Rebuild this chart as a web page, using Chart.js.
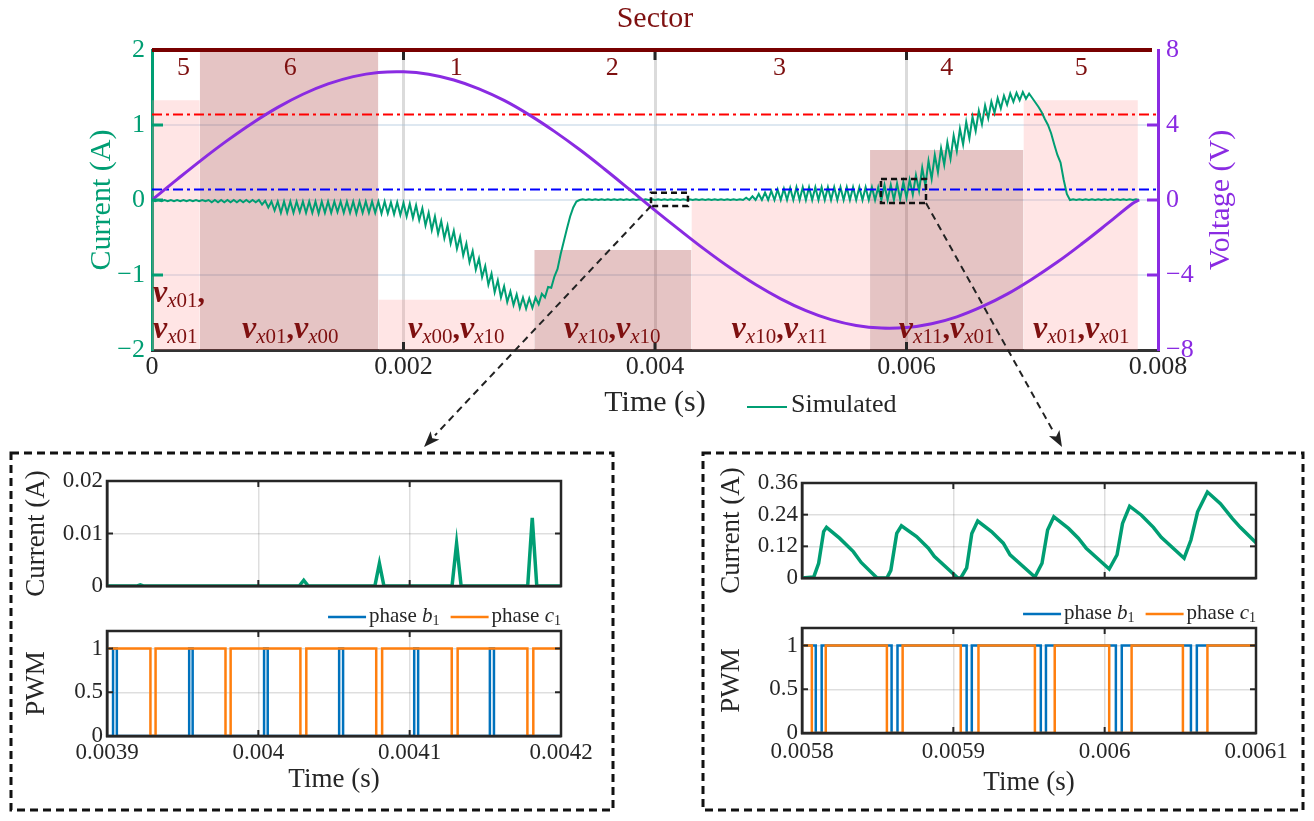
<!DOCTYPE html>
<html lang="en">
<head>
  <meta charset="UTF-8" />
  <title>Sector current and voltage</title>
  <script src="https://cdn.jsdelivr.net/npm/chart.js"></script>
  <style>
    body { margin: 0; background: #fff; }
    .wrap { position: relative; width: 1314px; height: 821px; }
    .wrap canvas { position: absolute; left: 0; top: 0; }
  </style>
</head>
<body>
<div class="wrap">
  <canvas id="mainChart" width="1314" height="821"></canvas>
  <canvas id="leftCurrent" width="1314" height="821"></canvas>
  <canvas id="leftPwm" width="1314" height="821"></canvas>
  <canvas id="rightCurrent" width="1314" height="821"></canvas>
  <canvas id="rightPwm" width="1314" height="821"></canvas>
</div>

<script>
  const W = 1314, H = 821;
  const SERIF = "'Liberation Serif', 'DejaVu Serif', serif";
  const INK = '#262626';
  const GREEN = '#009E73';
  const PURPLE = '#8A2BE2';
  const MAROON = '#7E1010';
  const BLUE = '#0072BD';
  const ORANGE = '#FF7F0E';

  // ---- main plot axes ----
  const timeTicks = [0, 0.002, 0.004, 0.006, 0.008];
  const timeTickLabels = ['0', '0.002', '0.004', '0.006', '0.008'];
  const currentTicks = [-2, -1, 0, 1, 2];
  const currentTickLabels = ['\u22122', '\u22121', '0', '1', '2'];
  const voltageTicks = [-8, -4, 0, 4, 8];
  const voltageTickLabels = ['\u22128', '\u22124', '0', '4', '8'];

  // ---- sectors ----
  const sectorEdges = [0, 0.00038, 0.0018, 0.00304, 0.00429, 0.00571, 0.00693, 0.00784];
  const sectorHeights = [1.33, 2, -1.33, -0.667, 0, 0.667, 1.33];
  const sectorNames = ['5', '6', '1', '2', '3', '4', '5'];
  const sectorLabelTimes = [0.00025, 0.0011, 0.00242, 0.00366, 0.00499, 0.00632, 0.00739];
  const vectorPairs = [['x01', 'x01'], ['x01', 'x00'], ['x00', 'x10'], ['x10', 'x10'],
                       ['x10', 'x11'], ['x11', 'x01'], ['x01', 'x01']];

  // current limits (A)
  const upperLimit = 1.14;
  const lowerLimit = 0.14;

  // simulated current, one sample every 25 us
  const currentStep = 0.000025;
  const currentSim = [
    0, -0.015, 0, -0.015, 0, -0.015, 0, -0.015, 0, -0.015,
    0, -0.015, 0, -0.015, 0, -0.015, 0, -0.015, 0, -0.03,
    0, -0.03, 0, -0.03, 0, -0.03, 0, -0.03, 0, -0.03,
    0, -0.03, 0, -0.03, 0, -0.06, -0.01, -0.1, -0.02, -0.14,
    -0.02, -0.17, -0.02, -0.17, -0.02, -0.17, -0.02, -0.16, -0.02, -0.17,
    -0.02, -0.17, -0.02, -0.18, -0.02, -0.17, -0.02, -0.17, -0.02, -0.16,
    -0.02, -0.17, -0.02, -0.17, -0.02, -0.18, -0.02, -0.17, -0.02, -0.17,
    -0.02, -0.17, -0.02, -0.18, -0.02, -0.18, -0.03, -0.19, -0.03, -0.2,
    -0.04, -0.22, -0.05, -0.24, -0.07, -0.27, -0.11, -0.34, -0.17, -0.4,
    -0.22, -0.45, -0.28, -0.51, -0.34, -0.58, -0.41, -0.65, -0.49, -0.74,
    -0.58, -0.83, -0.68, -0.93, -0.78, -1.03, -0.88, -1.13, -0.98, -1.23,
    -1.07, -1.3, -1.15, -1.36, -1.22, -1.4, -1.26, -1.44, -1.3, -1.45,
    -1.31, -1.44, -1.3, -1.39, -1.25, -1.3, -1.16, -1.17, -1.02, -0.92,
    -0.72, -0.55, -0.38, -0.22, -0.1, -0.02, 0, 0.01, 0, 0.01,
    0, 0.01, 0, 0.01, 0, 0.01, 0, 0.01, 0, 0.01,
    0, 0.01, 0, 0.01, 0, 0.01, 0, 0.01, 0, 0.01,
    0, 0.01, 0, 0.01, 0, 0.01, 0, 0.01, 0, 0.01,
    0, 0.01, 0, 0.01, 0, 0.01, 0, 0.01, 0, 0.01,
    0, 0.01, 0, 0.01, 0, 0.01, 0, 0.01, 0, 0.03,
    0, 0.05, 0, 0.08, 0, 0.1, 0, 0.12, 0, 0.14,
    0, 0.15, 0, 0.16, 0, 0.17, 0, 0.17, 0, 0.17,
    0, 0.17, 0, 0.17, 0, 0.17, 0, 0.17, 0, 0.17,
    0, 0.17, 0, 0.17, 0, 0.17, 0, 0.17, 0, 0.17,
    0, 0.17, 0, 0.2, 0, 0.2, 0, 0.22, 0.01, 0.24,
    0.03, 0.27, 0.07, 0.33, 0.12, 0.43, 0.19, 0.52, 0.28, 0.6,
    0.37, 0.69, 0.47, 0.77, 0.55, 0.86, 0.65, 0.95, 0.74, 1.04,
    0.82, 1.11, 0.92, 1.19, 1.01, 1.26, 1.09, 1.31, 1.16, 1.36,
    1.22, 1.39, 1.27, 1.42, 1.31, 1.43, 1.33, 1.44, 1.35, 1.42,
    1.36, 1.3, 1.24, 1.17, 1.08, 1.0, 0.89, 0.74, 0.6, 0.5,
    0.27, 0.08, 0, 0.01, 0, 0.01, 0, 0.01, 0, 0.01,
    0, 0.01, 0, 0.01, 0, 0.01, 0, 0.01, 0, 0.01,
    0, 0.01, 0, 0.01, 0
  ];

  // phase voltage (V)
  const voltageTime = [0, 0.0002, 0.0004, 0.0006, 0.0008, 0.001, 0.0012, 0.0014, 0.0016, 0.0018,
    0.002, 0.0022, 0.0024, 0.0026, 0.0028, 0.003, 0.0032, 0.0034, 0.0036, 0.0038,
    0.004, 0.0042, 0.0044, 0.0046, 0.0048, 0.005, 0.0052, 0.0054, 0.0056, 0.0058,
    0.006, 0.0062, 0.0064, 0.0066, 0.0068, 0.007, 0.0072, 0.0074, 0.0076, 0.0078, 0.00785];
  const voltage = [0, 1.1, 2.17, 3.18, 4.11, 4.94, 5.64, 6.19, 6.58, 6.8,
    6.84, 6.71, 6.4, 5.93, 5.31, 4.54, 3.66, 2.69, 1.64, 0.55,
    -0.55, -1.62, -2.66, -3.63, -4.51, -5.27, -5.9, -6.38, -6.69, -6.83,
    -6.8, -6.6, -6.23, -5.69, -5.02, -4.21, -3.31, -2.31, -1.25, -0.17, 0];

  // zoom windows marked on the main plot
  const leftWindow = { t0: 0.003968, t1: 0.004262, i0: -0.08, i1: 0.097 };
  const rightWindow = { t0: 0.005797, t1: 0.006155, i0: -0.04, i1: 0.28 };

  // ---- left zoom (0.0039 - 0.0042 s) ----
  const leftTicks = [0.0039, 0.004, 0.0041, 0.0042];
  const leftTickLabels = ['0.0039', '0.004', '0.0041', '0.0042'];
  const leftCurTicks = [0, 0.01, 0.02];
  const leftCurTickLabels = ['0', '0.01', '0.02'];
  const leftCurTime = [0.0039, 0.00392, 0.003922, 0.003924, 0.004027, 0.00403, 0.004033,
    0.004077, 0.00408, 0.004083, 0.004128, 0.004131, 0.004134, 0.004178, 0.004181, 0.004184, 0.0042];
  const leftCurValue = [0, 0, 0.0002, 0, 0, 0.0011, 0,
    0, 0.0043, 0, 0, 0.0081, 0, 0, 0.013, 0, 0];
  const leftBTime = [0.0039, 0.003904, 0.0039065, 0.0039543, 0.0039566, 0.0040038, 0.0040062,
    0.0040534, 0.004056, 0.004103, 0.0041056, 0.004153, 0.0041557, 0.0042];
  const leftBLevel = [0, 1, 0, 1, 0, 1, 0, 1, 0, 1, 0, 1, 0, 0];
  const leftCTime = [0.0039, 0.0039287, 0.0039321, 0.0039783, 0.0039817, 0.0040278, 0.0040317,
    0.0040779, 0.0040818, 0.0041278, 0.0041317, 0.0041778, 0.0041817, 0.0042];
  const leftCLevel = [1, 0, 1, 0, 1, 0, 1, 0, 1, 0, 1, 0, 1, 1];

  // ---- right zoom (0.0058 - 0.0061 s) ----
  const rightTicks = [0.0058, 0.0059, 0.006, 0.0061];
  const rightTickLabels = ['0.0058', '0.0059', '0.006', '0.0061'];
  const rightCurTicks = [0, 0.12, 0.24, 0.36];
  const rightCurTickLabels = ['0', '0.12', '0.24', '0.36'];
  const rightCurTime = [0.0058, 0.0058078, 0.005811, 0.0058143, 0.0058162, 0.0058248, 0.0058339, 0.0058391,
    0.0058496, 0.0058561, 0.0058587, 0.0058626, 0.0058657, 0.0058757, 0.0058835, 0.0058874,
    0.005903, 0.0059049, 0.0059088, 0.0059122, 0.0059161, 0.0059252, 0.005933, 0.0059375,
    0.0059539, 0.0059586, 0.0059623, 0.0059664, 0.0059761, 0.0059826, 0.0059878,
    0.006003, 0.0060082, 0.0060118, 0.0060165, 0.0060243, 0.0060322, 0.0060374,
    0.0060525, 0.006057, 0.0060614, 0.0060679, 0.0060765, 0.0060843, 0.0060896, 0.0061];
  const rightCurValue = [0, 0.004, 0.056, 0.176, 0.192, 0.151, 0.1, 0.059,
    0, 0, 0.029, 0.169, 0.198, 0.157, 0.113, 0.082,
    0, 0, 0.038, 0.169, 0.216, 0.176, 0.132, 0.088,
    0.004, 0.056, 0.182, 0.232, 0.188, 0.151, 0.113,
    0.034, 0.088, 0.207, 0.272, 0.238, 0.192, 0.154,
    0.075, 0.144, 0.251, 0.326, 0.282, 0.226, 0.192, 0.134];
  const rightBTime = [0.0058, 0.0058091, 0.005813, 0.0058592, 0.0058631, 0.0059088, 0.0059122,
    0.0059578, 0.0059612, 0.0060074, 0.0060113, 0.006057, 0.0060609, 0.0061];
  const rightBLevel = [1, 0, 1, 0, 1, 0, 1, 0, 1, 0, 1, 0, 1, 1];
  const rightCTime = [0.0058, 0.0058065, 0.0058157, 0.0058561, 0.0058665, 0.0059049, 0.0059166,
    0.0059539, 0.005967, 0.006003, 0.0060178, 0.0060517, 0.0060679, 0.0061];
  const rightCLevel = [1, 0, 1, 0, 1, 0, 1, 0, 1, 0, 1, 0, 1, 1];

  const pwmTicks = [0, 0.5, 1];
  const pwmTickLabels = ['0', '0.5', '1'];

  // ---------- helpers ----------
  const pts = (xs, ys) => xs.map((x, i) => ({ x, y: ys[i] }));

  function seg(ctx, x0, y0, x1, y1) {
    ctx.beginPath(); ctx.moveTo(x0, y0); ctx.lineTo(x1, y1); ctx.stroke();
  }

  // text made of runs with different fonts / offsets
  function drawRuns(ctx, runs, x, y, align) {
    let total = 0;
    runs.forEach(r => { ctx.font = r.f; r.w = ctx.measureText(r.t).width; total += r.w; });
    let cx = align === 'center' ? x - total / 2 : (align === 'right' ? x - total : x);
    ctx.textAlign = 'left';
    runs.forEach(r => { ctx.font = r.f; ctx.fillText(r.t, cx, y + (r.dy || 0)); cx += r.w; });
    return total;
  }

  const V_FONT = `italic bold 32px ${SERIF}`;
  const SUB_I = `italic 21px ${SERIF}`;
  const SUB_N = `21px ${SERIF}`;
  const vec = s => [{ t: 'v', f: V_FONT }, { t: s[0], f: SUB_I, dy: 5 }, { t: s.slice(1), f: SUB_N, dy: 5 }];
  const comma = { t: ',', f: `bold 30px ${SERIF}` };

  function dashedArrow(ctx, x0, y0, x1, y1) {
    const ang = Math.atan2(y1 - y0, x1 - x0);
    const hl = 16, hw = 6;
    const bx = x1 - hl * Math.cos(ang), by = y1 - hl * Math.sin(ang);
    ctx.strokeStyle = '#222'; ctx.fillStyle = '#222'; ctx.lineWidth = 2;
    ctx.setLineDash([7, 5]);
    seg(ctx, x0, y0, bx, by);
    ctx.setLineDash([]);
    ctx.beginPath();
    ctx.moveTo(x1, y1);
    ctx.lineTo(bx + hw * Math.sin(ang), by - hw * Math.cos(ang));
    ctx.lineTo(bx + 4 * Math.cos(ang), by + 4 * Math.sin(ang));
    ctx.lineTo(bx - hw * Math.sin(ang), by + hw * Math.cos(ang));
    ctx.closePath(); ctx.fill();
  }

  // ---------- main chart ----------
  const mainDecor = {
    id: 'mainDecor',
    afterDatasetsDraw(chart) {
      const { ctx, chartArea: a, scales: { x, y, y2 } } = chart;
      ctx.save();
      // maroon sector axis on top
      ctx.strokeStyle = '#780000'; ctx.lineWidth = 4;
      seg(ctx, a.left, a.top, a.right - 6, a.top);

      // inward tick stubs
      ctx.lineWidth = 3;
      ctx.strokeStyle = INK;
      timeTicks.slice(1, -1).forEach(v => {
        const px = x.getPixelForValue(v);
        seg(ctx, px, a.bottom, px, a.bottom - 8);
        seg(ctx, px, a.top + 2, px, a.top + 10);
      });
      ctx.strokeStyle = GREEN;
      currentTicks.slice(1, -1).forEach(v => {
        const py = y.getPixelForValue(v);
        seg(ctx, a.left, py, a.left + 11, py);
      });
      ctx.strokeStyle = PURPLE;
      voltageTicks.slice(1, -1).forEach(v => {
        const py = y2.getPixelForValue(v);
        seg(ctx, a.right - 11, py, a.right, py);
      });

      // sector numbers
      ctx.fillStyle = MAROON;
      ctx.font = `26px ${SERIF}`;
      ctx.textAlign = 'center'; ctx.textBaseline = 'middle';
      sectorNames.forEach((n, i) => ctx.fillText(n, x.getPixelForValue(sectorLabelTimes[i]), y.getPixelForValue(1.76)));

      // switching vectors of each sector
      ctx.textBaseline = 'alphabetic';
      const base = y.getPixelForValue(-1.84);
      vectorPairs.forEach((p, i) => {
        if (i === 0) {
          drawRuns(ctx, [...vec(p[0]), comma], a.left + 1, y.getPixelForValue(-1.36), 'left');
          drawRuns(ctx, vec(p[1]), a.left + 1, base, 'left');
        } else {
          drawRuns(ctx, [...vec(p[0]), comma, ...vec(p[1])], x.getPixelForValue(sectorLabelTimes[i]), base, 'center');
        }
      });
      ctx.restore();
    },
    afterDraw(chart) {
      const { ctx, chartArea: a, scales: { x, y } } = chart;
      ctx.save();
      // titles
      ctx.fillStyle = MAROON;
      ctx.font = `30px ${SERIF}`;
      ctx.textAlign = 'center'; ctx.textBaseline = 'middle';
      ctx.fillText('Sector', (a.left + a.right) / 2, 19);

      ctx.fillStyle = PURPLE;
      ctx.translate(1221, (a.top + a.bottom) / 2);
      ctx.rotate(-Math.PI / 2);
      ctx.fillText('Voltage (V)', 0, 0);
      ctx.setTransform(1, 0, 0, 1, 0, 0);

      // legend
      ctx.strokeStyle = GREEN; ctx.lineWidth = 2;
      seg(ctx, 747, 407, 787, 407);
      ctx.fillStyle = INK; ctx.font = `26px ${SERIF}`;
      ctx.textAlign = 'left';
      ctx.fillText('Simulated', 791, 405);

      // zoom windows
      ctx.strokeStyle = '#111'; ctx.lineWidth = 2.5;
      ctx.setLineDash([6, 4]);
      const boxes = [leftWindow, rightWindow].map(w => {
        const x0 = x.getPixelForValue(w.t0), x1 = x.getPixelForValue(w.t1);
        const y0 = y.getPixelForValue(w.i1), y1 = y.getPixelForValue(w.i0);
        ctx.strokeRect(x0, y0, x1 - x0, y1 - y0);
        return { x0, x1, y0, y1 };
      });
      ctx.setLineDash([]);
      dashedArrow(ctx, boxes[0].x0, boxes[0].y1, 424, 447);
      dashedArrow(ctx, boxes[1].x1, boxes[1].y1, 1062, 447);

      // inset frames
      ctx.strokeStyle = '#111'; ctx.lineWidth = 3;
      ctx.setLineDash([8, 5]);
      ctx.strokeRect(11, 453, 602, 357);
      ctx.strokeRect(703, 453, 600, 357);
      ctx.restore();
    }
  };

  const lightShade = 'rgba(255, 150, 150, 0.25)';
  const darkShade = 'rgba(170, 60, 60, 0.3)';

  const sectorSets = sectorHeights.map((h, i) => ({
    data: [{ x: sectorEdges[i], y: h }, { x: sectorEdges[i + 1], y: h }],
    yAxisID: 'y', fill: 'start', pointRadius: 0, borderWidth: 1,
    borderColor: 'rgba(0,0,0,0)', backgroundColor: i % 2 ? darkShade : lightShade, order: 10
  }));

  new Chart(document.getElementById('mainChart'), {
    type: 'line',
    data: {
      datasets: [
        ...sectorSets,
        { data: [{ x: 0, y: upperLimit }, { x: 0.008, y: upperLimit }], yAxisID: 'y',
          borderColor: '#FF0000', borderWidth: 2, borderDash: [10, 4, 3, 4], pointRadius: 0, order: 5 },
        { data: currentSim.map((v, k) => ({ x: k * currentStep, y: v })), yAxisID: 'y',
          borderColor: GREEN, borderWidth: 2, pointRadius: 0, order: 4 },
        { data: [{ x: 0, y: lowerLimit }, { x: 0.008, y: lowerLimit }], yAxisID: 'y',
          borderColor: '#0000FF', borderWidth: 2, borderDash: [10, 4, 3, 4], pointRadius: 0, order: 3 },
        { data: pts(voltageTime, voltage), yAxisID: 'y2',
          borderColor: PURPLE, borderWidth: 3, pointRadius: 0, tension: 0.4, order: 2 }
      ]
    },
    options: {
      responsive: false, animation: false, events: [],
      layout: { padding: { left: 80, right: 0, top: 50, bottom: 396 } },
      plugins: { legend: { display: false }, tooltip: { enabled: false } },
      scales: {
        x: {
          type: 'linear', min: 0, max: 0.008,
          afterBuildTicks: s => { s.ticks = timeTicks.map(v => ({ value: v })); },
          afterFit: s => { s.height = 75; },
          ticks: { callback: (v, i) => timeTickLabels[i], font: { family: SERIF, size: 26 }, color: INK,
                   padding: 2, maxRotation: 0, autoSkip: false },
          grid: { color: c => (c.tick && (c.tick.value === 0 || c.tick.value === 0.008)) ? 'rgba(0,0,0,0)' : 'rgba(0,0,0,0.14)',
                  lineWidth: 3, drawTicks: false },
          border: { color: '#333', width: 3 },
          title: { display: true, text: 'Time (s)', font: { family: SERIF, size: 30 }, color: INK, padding: { top: 4, bottom: 4 } }
        },
        y: {
          position: 'left', min: -2, max: 2,
          afterBuildTicks: s => { s.ticks = currentTicks.map(v => ({ value: v })); },
          afterFit: s => { s.width = 72; },
          ticks: { callback: (v, i) => currentTickLabels[i], font: { family: SERIF, size: 26 }, color: GREEN, padding: 7 },
          grid: { color: c => (c.tick && Math.abs(c.tick.value) === 2) ? 'rgba(0,0,0,0)' : 'rgba(160, 190, 215, 0.35)',
                  lineWidth: 2, drawTicks: false },
          border: { color: GREEN, width: 3 },
          title: { display: true, text: 'Current (A)', font: { family: SERIF, size: 30 }, color: GREEN, padding: { top: 4, bottom: 4 } }
        },
        y2: {
          position: 'right', min: -8, max: 8,
          afterBuildTicks: s => { s.ticks = voltageTicks.map(v => ({ value: v })); },
          afterFit: s => { s.width = 156; },
          ticks: { callback: (v, i) => voltageTickLabels[i], font: { family: SERIF, size: 26 }, color: PURPLE, padding: 8 },
          grid: { display: false, drawTicks: false },
          border: { color: PURPLE, width: 3 }
        }
      }
    },
    plugins: [mainDecor]
  });

  // ---------- zoomed insets ----------
  function drawPhaseLegend(ctx, right, y) {
    const items = [['b', BLUE], ['c', ORANGE]];
    let xr = right;
    ctx.textBaseline = 'middle';
    for (let i = items.length - 1; i >= 0; i--) {
      const [letter, color] = items[i];
      const runs = [{ t: 'phase ', f: `21px ${SERIF}` }, { t: letter, f: `italic 21px ${SERIF}` },
                    { t: '1', f: `14px ${SERIF}`, dy: 5 }];
      ctx.fillStyle = INK;
      const w = drawRuns(ctx, runs, xr, y, 'right');
      const tx = xr - w;
      ctx.strokeStyle = color; ctx.lineWidth = 2.5;
      seg(ctx, tx - 41, y + 1, tx - 3, y + 1);
      xr = tx - 41 - 11;
    }
  }

  const insetFrame = {
    id: 'insetFrame',
    afterDraw(chart, args, opts) {
      const { ctx, chartArea: a, scales: { x, y } } = chart;
      ctx.save();
      ctx.strokeStyle = INK; ctx.lineWidth = 2;
      x.ticks.forEach(t => {
        const px = x.getPixelForValue(t.value);
        seg(ctx, px, a.bottom, px, a.bottom - 6);
        seg(ctx, px, a.top, px, a.top + 6);
      });
      y.ticks.forEach(t => {
        const py = y.getPixelForValue(t.value);
        seg(ctx, a.left, py, a.left + 6, py);
        seg(ctx, a.right, py, a.right - 6, py);
      });
      ctx.lineWidth = 2.5;
      ctx.strokeRect(a.left, a.top, a.right - a.left, a.bottom - a.top);
      if (opts.legend) drawPhaseLegend(ctx, a.right, a.top - 15);
      ctx.restore();
    }
  };

  function insetChart(id, cfg) {
    const a = cfg.area;
    const edge = (c, list) => c.tick && (c.tick.value === list[0] || c.tick.value === list[list.length - 1]);
    return new Chart(document.getElementById(id), {
      type: 'line',
      data: { datasets: cfg.datasets },
      options: {
        responsive: false, animation: false, events: [],
        layout: { padding: { left: a.left - 90, right: W - a.right, top: a.top, bottom: H - a.bottom - cfg.xHeight } },
        plugins: { legend: { display: false }, tooltip: { enabled: false }, insetFrame: { legend: cfg.legend } },
        scales: {
          x: {
            type: 'linear', min: cfg.xTicks[0], max: cfg.xTicks[cfg.xTicks.length - 1],
            afterBuildTicks: s => { s.ticks = cfg.xTicks.map(v => ({ value: v })); },
            afterFit: s => { s.height = cfg.xHeight; },
            ticks: { display: !!cfg.xLabels, callback: (v, i) => cfg.xLabels ? cfg.xLabels[i] : '',
                     font: { family: SERIF, size: 23 }, color: INK, padding: cfg.xPad || 0, maxRotation: 0, autoSkip: false },
            grid: { color: c => edge(c, cfg.xTicks) ? 'rgba(0,0,0,0)' : 'rgba(0,0,0,0.13)', lineWidth: 1.5, drawTicks: false },
            border: { color: INK, width: 2.5 },
            title: { display: !!cfg.xLabels, text: 'Time (s)', font: { family: SERIF, size: 27 }, color: INK, padding: { top: 4, bottom: 4 } }
          },
          y: {
            min: cfg.yMin, max: cfg.yMax,
            afterBuildTicks: s => { s.ticks = cfg.yTicks.map(v => ({ value: v })); },
            afterFit: s => { s.width = 90; },
            ticks: { callback: (v, i) => cfg.yLabels[i], font: { family: SERIF, size: 23 }, color: INK, padding: 4 },
            grid: { color: c => (c.tick && (c.tick.value === cfg.yMin || c.tick.value === cfg.yMax)) ? 'rgba(0,0,0,0)' : 'rgba(0,0,0,0.13)',
                    lineWidth: 1.5, drawTicks: false },
            border: { color: INK, width: 2.5 },
            title: { display: true, text: cfg.yTitle, font: { family: SERIF, size: 27 }, color: INK, padding: { top: 4, bottom: 4 } }
          }
        }
      },
      plugins: [insetFrame]
    });
  }

  const curLine = (xs, ys) => ({ data: pts(xs, ys), borderColor: GREEN, borderWidth: 3.5, pointRadius: 0 });
  const pwmLine = (xs, ys, color, order) => ({ data: pts(xs, ys), borderColor: color, borderWidth: 2.5,
                                               pointRadius: 0, stepped: true, order });

  insetChart('leftCurrent', {
    area: { left: 107, right: 561, top: 481, bottom: 586 }, xHeight: 0,
    xTicks: leftTicks, xLabels: null,
    yMin: 0, yMax: 0.02, yTicks: leftCurTicks, yLabels: leftCurTickLabels, yTitle: 'Current (A)',
    datasets: [curLine(leftCurTime, leftCurValue)]
  });
  insetChart('leftPwm', {
    area: { left: 107, right: 561, top: 631, bottom: 736 }, xHeight: 64, xPad: 3,
    xTicks: leftTicks, xLabels: leftTickLabels, legend: true,
    yMin: 0, yMax: 1.2, yTicks: pwmTicks, yLabels: pwmTickLabels, yTitle: 'PWM',
    datasets: [pwmLine(leftBTime, leftBLevel, BLUE, 1), pwmLine(leftCTime, leftCLevel, ORANGE, 0)]
  });
  insetChart('rightCurrent', {
    area: { left: 802, right: 1256, top: 483, bottom: 578 }, xHeight: 0,
    xTicks: rightTicks, xLabels: null,
    yMin: 0, yMax: 0.36, yTicks: rightCurTicks, yLabels: rightCurTickLabels, yTitle: 'Current (A)',
    datasets: [curLine(rightCurTime, rightCurValue)]
  });
  insetChart('rightPwm', {
    area: { left: 802, right: 1256, top: 628, bottom: 733 }, xHeight: 70, xPad: 5,
    xTicks: rightTicks, xLabels: rightTickLabels, legend: true,
    yMin: 0, yMax: 1.2, yTicks: pwmTicks, yLabels: pwmTickLabels, yTitle: 'PWM',
    datasets: [pwmLine(rightBTime, rightBLevel, BLUE, 1), pwmLine(rightCTime, rightCLevel, ORANGE, 0)]
  });
</script>
</body>
</html>
